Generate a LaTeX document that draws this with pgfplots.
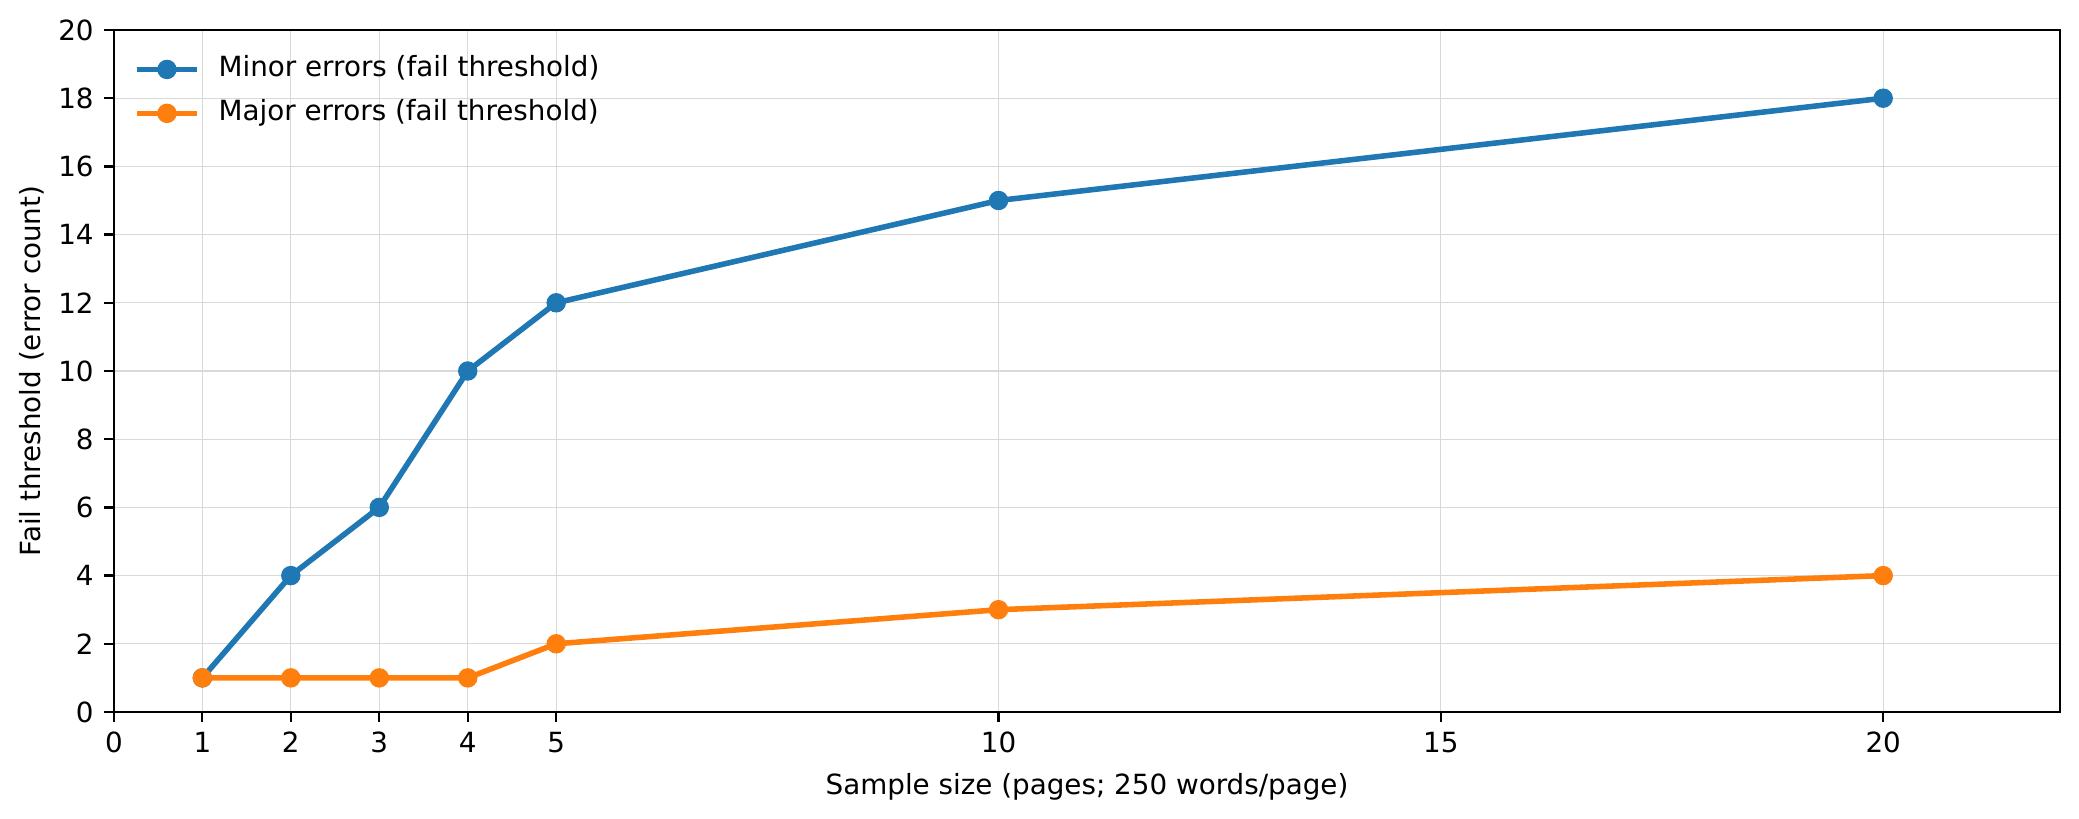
\documentclass[border=0pt]{standalone}
\usepackage{pgfplots}
\pgfplotsset{compat=1.18}
\usepackage{fontspec}
\setmainfont{DejaVu Sans}
\definecolor{tabblue}{HTML}{1F77B4}
\definecolor{taborange}{HTML}{FF7F0E}
\begin{document}
\begin{tikzpicture}
\path (-41pt,-38.5pt) rectangle (707.4pt,256.3pt);
\begin{axis}[
  at={(0,0)}, anchor=south west,
  scale only axis, width=700.6pt, height=245.5pt,
  xmin=0, xmax=22, ymin=0, ymax=20,
  xtick={0,1,2,3,4,5,10,15,20},
  ytick={0,2,...,20},
  /pgf/number format/assume math mode=true,
  tick pos=left, tick align=outside,
  major tick length=3.5pt,
  every tick/.style={black, line width=0.8pt},
  axis line style={line width=0.8pt},
  grid=major,
  major grid style={line width=0.4pt, color=gray!30},
  font=\fontsize{10pt}{12pt}\selectfont,
  tick label style={font=\fontsize{10pt}{12pt}\selectfont},
  xticklabel style={anchor=north, inner sep=0pt, yshift=-3.6pt},
  yticklabel style={anchor=east, inner sep=0pt, xshift=-3.6pt},
  every axis x label/.style={at={(axis description cs:0.5,0)}, anchor=center, yshift=-27pt},
  every axis y label/.style={at={(axis description cs:0,0.5)}, xshift=-29.5pt, anchor=center, rotate=90},
  xlabel={Sample size (pages; 250 words/page)},
  ylabel={Fail threshold (error count)},
  legend cell align=left,
  legend style={draw=none, fill=none, inner sep=0pt, at={(axis description cs:0,1)}, anchor=north west,
    xshift=7.1pt, yshift=-9pt, row sep=5.8pt, column sep=6.8pt,
    nodes={inner sep=0pt, text height=7.6pt, text depth=2.4pt},
    font=\fontsize{10pt}{12pt}\selectfont},
  legend image code/.code={\draw[mark repeat=2, mark phase=2, #1] plot coordinates {(0pt,0pt) (10.8pt,0pt) (21.6pt,0pt)};},
]
\addplot[color=tabblue, line width=2pt, mark=*, mark size=3.3pt, mark options={solid, fill=tabblue, line width=0.4pt}]
  coordinates {(1,1) (2,4) (3,6) (4,10) (5,12) (10,15) (20,18)};
\addlegendentry{Minor errors (fail threshold)}
\addplot[color=taborange, line width=2pt, mark=*, mark size=3.3pt, mark options={solid, fill=taborange, line width=0.4pt}]
  coordinates {(1,1) (2,1) (3,1) (4,1) (5,2) (10,3) (20,4)};
\addlegendentry{Major errors (fail threshold)}
\end{axis}
\end{tikzpicture}
\end{document}
